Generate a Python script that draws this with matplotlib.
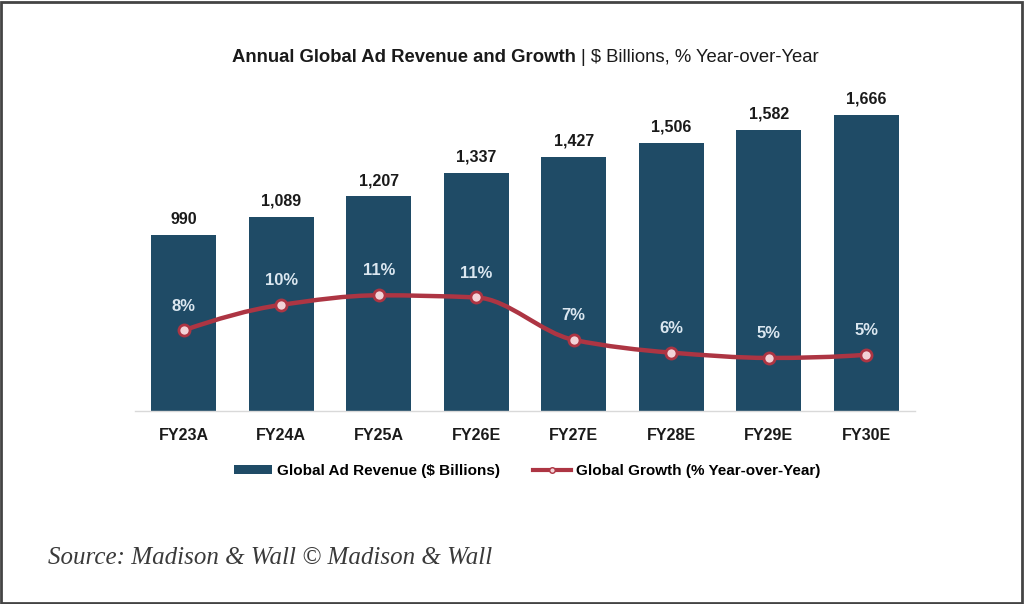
import matplotlib
matplotlib.use("Agg")
import matplotlib.pyplot as plt
from matplotlib.path import Path
from matplotlib.patches import PathPatch, Rectangle, Patch
from matplotlib.lines import Line2D
import numpy as np

categories = ["FY23A", "FY24A", "FY25A", "FY26E", "FY27E", "FY28E", "FY29E", "FY30E"]
revenue = [990, 1089, 1207, 1337, 1427, 1506, 1582, 1666]
revenue_labels = ["990", "1,089", "1,207", "1,337", "1,427", "1,506", "1,582", "1,666"]
growth = [7.6, 10.0, 10.9, 10.7, 6.7, 5.5, 5.0, 5.3]
growth_labels = ["8%", "10%", "11%", "11%", "7%", "6%", "5%", "5%"]

BAR = "#1f4b66"
LINE = "#ad3543"
FONT = "Liberation Sans"

fig = plt.figure(figsize=(10.24, 6.04), dpi=100)
ax = fig.add_axes([135/1024, 193/604, 780/1024, 311/604])
ax2 = ax.twinx()

x = np.arange(len(categories))
ax.bar(x, revenue, width=0.665, color=BAR, zorder=2)
ax.set_xlim(-0.5, 7.5)
ax.set_ylim(0, 1750)
ax2.set_ylim(0, 29.3)

for xi, v, lab in zip(x, revenue, revenue_labels):
    ax.annotate(lab, (xi, v), xytext=(0, 11.5), textcoords="offset points",
                ha="center", va="center", fontsize=11.5, fontweight="bold",
                family=FONT, color="#1a1a1a")

# smoothed (monotone cubic) line through the data points, as a Bezier path
xs = x.astype(float)
ys = np.array(growth, dtype=float)
h = np.diff(xs)
d = np.diff(ys) / h
m = np.zeros_like(ys)
for i in range(1, len(ys) - 1):
    if d[i - 1] * d[i] > 0:
        w1 = 2 * h[i] + h[i - 1]
        w2 = h[i] + 2 * h[i - 1]
        m[i] = (w1 + w2) / (w1 / d[i - 1] + w2 / d[i])
m[0] = ((2 * h[0] + h[1]) * d[0] - h[0] * d[1]) / (h[0] + h[1])
if np.sign(m[0]) != np.sign(d[0]):
    m[0] = 0
elif np.sign(d[0]) != np.sign(d[1]) and abs(m[0]) > abs(3 * d[0]):
    m[0] = 3 * d[0]
m[-1] = ((2 * h[-1] + h[-2]) * d[-1] - h[-1] * d[-2]) / (h[-1] + h[-2])
if np.sign(m[-1]) != np.sign(d[-1]):
    m[-1] = 0
elif np.sign(d[-1]) != np.sign(d[-2]) and abs(m[-1]) > abs(3 * d[-1]):
    m[-1] = 3 * d[-1]

verts = [(xs[0], ys[0])]
codes = [Path.MOVETO]
for i in range(len(xs) - 1):
    dx = h[i] / 3.0
    verts += [(xs[i] + dx, ys[i] + m[i] * dx),
              (xs[i + 1] - dx, ys[i + 1] - m[i + 1] * dx),
              (xs[i + 1], ys[i + 1])]
    codes += [Path.CURVE4] * 3
ax2.add_patch(PathPatch(Path(verts, codes), facecolor="none", edgecolor=LINE, lw=3.2,
                        zorder=3, capstyle="round", joinstyle="round"))
ax2.plot(x, growth, linestyle="none", marker="o", markersize=8,
         markerfacecolor="#f3d3d7", markeredgecolor=LINE, markeredgewidth=2, zorder=4)
for xi, g, lab in zip(x, growth, growth_labels):
    ax2.annotate(lab, (xi, g), xytext=(0, 17.5), textcoords="offset points",
                 ha="center", va="center", fontsize=12, fontweight="bold",
                 family=FONT, color="#dbe7f0", zorder=5)

for a in (ax, ax2):
    for s in a.spines.values():
        s.set_visible(False)
    a.set_yticks([])
ax.spines["bottom"].set_visible(True)
ax.spines["bottom"].set_color("#d9d9d9")
ax.spines["bottom"].set_linewidth(1)
ax.set_xticks(x)
ax.set_xticklabels(categories, fontsize=11.5, fontweight="bold", family=FONT, color="#1a1a1a")
ax.tick_params(axis="x", length=0, pad=12)

# title
t1 = fig.text(232/1024, 1 - 57/604, "Annual Global Ad Revenue and Growth ", fontsize=13.3,
              fontweight="bold", family=FONT, color="#1a1a1a", va="center", ha="left")
fig.canvas.draw()
bb = t1.get_window_extent()
fig.text(bb.x1/1024, 1 - 57/604, "| $ Billions, % Year-over-Year", fontsize=13.3,
         family=FONT, color="#1a1a1a", va="center", ha="left")

# legend
handles = [Patch(facecolor=BAR, edgecolor="none"),
           Line2D([0], [0], color=LINE, lw=3, marker="o", markersize=4,
                  markerfacecolor="#f3d3d7", markeredgecolor=LINE)]
leg = fig.legend(handles, ["Global Ad Revenue ($ Billions)", "Global Growth (% Year-over-Year)"],
                 loc="center", bbox_to_anchor=(527/1024, 1 - 471/604), ncol=2, frameon=False,
                 prop={"family": FONT, "weight": "bold", "size": 11},
                 handlelength=2.5, handleheight=0.55, handletextpad=0.3, columnspacing=2.2)

fig.text(48/1024, 1 - 558/604, "Source: Madison & Wall \u00a9 Madison & Wall", fontsize=18,
         family="Liberation Serif", style="italic", color="#3a3a3a", va="center", ha="left")

fig.add_artist(Rectangle((0.001, 0.002), 0.997, 0.995, transform=fig.transFigure,
                         fill=False, edgecolor="#444444", lw=2))

fig.savefig("out.png", dpi=100)
